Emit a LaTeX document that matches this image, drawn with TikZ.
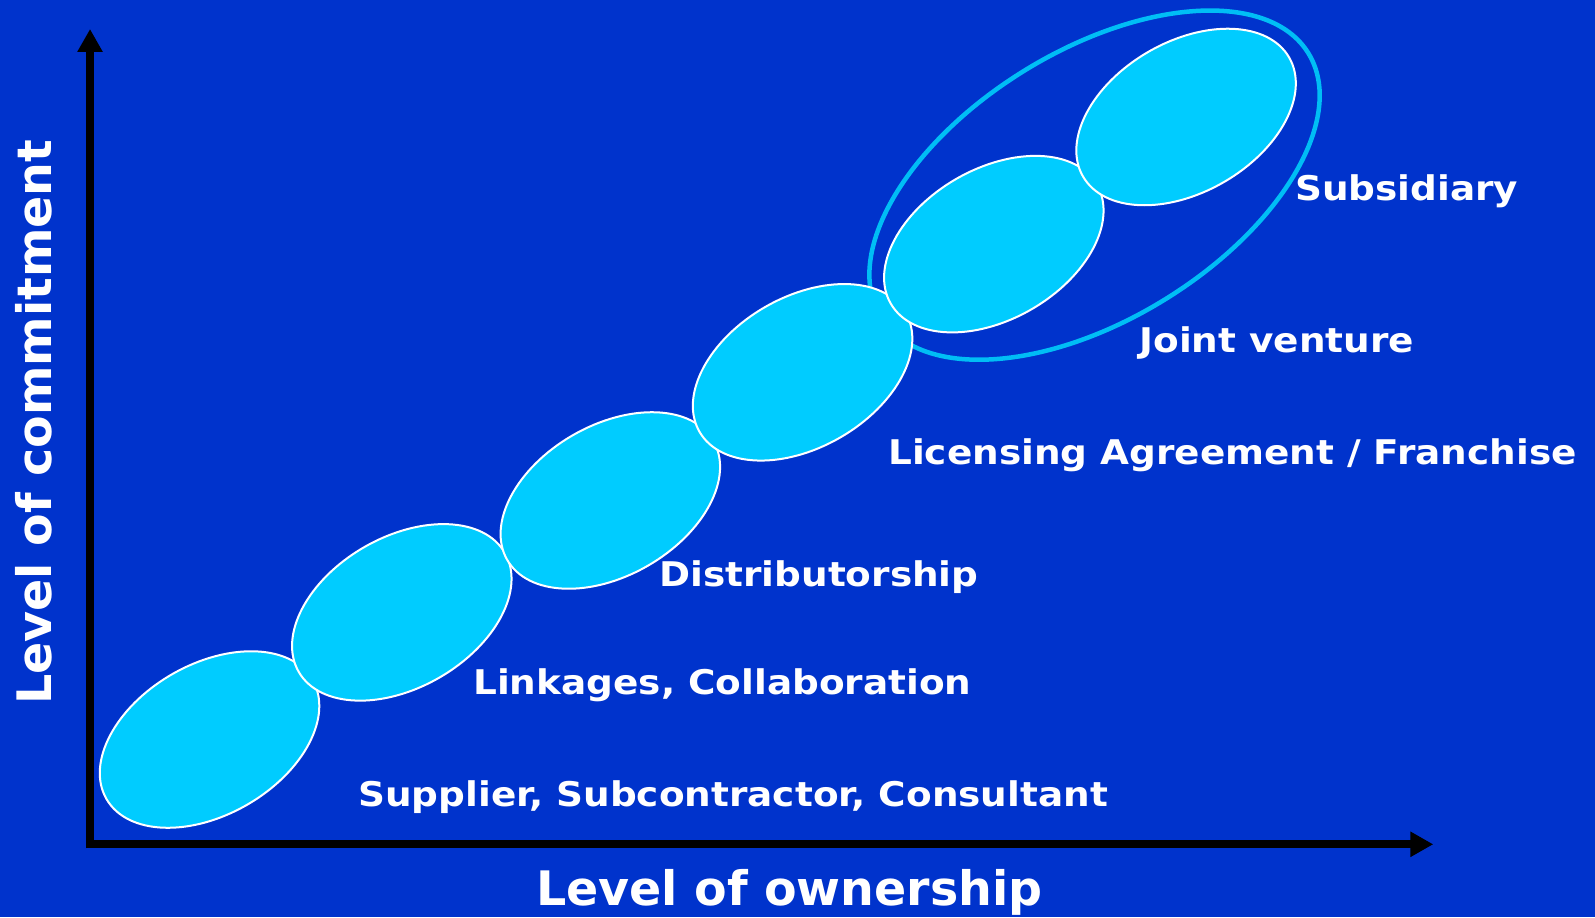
\documentclass[tikz,border=0pt]{standalone}
\usepackage{fontspec}
\setmainfont{DejaVu Sans}
\usetikzlibrary{arrows.meta}
\definecolor{bg}{RGB}{0,51,204}
\definecolor{cy}{RGB}{0,204,255}
\definecolor{ring}{RGB}{0,190,245}
\newcommand{\wide}[1]{\scalebox{1.1}[1]{#1}}
\tikzset{
  blob/.style={fill=cy, draw=white, line width=2pt},
  lbl/.style={text=white, font=\bfseries\fontsize{34}{38}\selectfont, anchor=base west, inner sep=0pt},
  axislbl/.style={text=white, font=\bfseries\fontsize{47.5}{52}\selectfont, inner sep=0pt},
  axis/.style={line width=8pt, -{Triangle[width=24pt,length=23pt]}},
}
\begin{document}
\begin{tikzpicture}[x=1.0172pt,y=-1.0172pt]
\fill[bg] (0,0) rectangle (1568,901.5);
\useasboundingbox (0,0) rectangle (1568,901.5);
% big ring
\draw[ring, line width=4.5pt, rotate around={31.7:(1076,182)}] (1076,182) ellipse [x radius=247, y radius=132];
% small ellipses
\foreach \cx/\cy/\n in {206/727/1, 395/602/2, 600/492/3, 789/366/4, 977/240/5, 1166/115/6}{
  \draw[blob, rotate around={30:(\cx,\cy)}] (\cx,\cy) ellipse [x radius=117, y radius=74];
  \coordinate (e\n) at (\cx,\cy);
}
% axes
\coordinate (o) at (88.5,830);
\coordinate (ytip) at (88.5,28.5);
\coordinate (xtip) at (1409,830);
\draw[axis] ([yshift=-4pt]o) -- (ytip);
\draw[axis] ([xshift=-4pt]o) -- (xtip);
% labels
\node[lbl] (l6) at (1273,197) {\wide{Subsidiary}};
\node[lbl] (l5) at (1120,347) {\wide{Joint venture}};
\node[lbl] (l4) at (873,457) {\wide{Licensing Agreement / Franchise}};
\node[lbl] (l3) at (648,577) {\wide{Distributorship}};
\node[lbl] (l2) at (465,683) {\wide{Linkages, Collaboration}};
\node[lbl] (l1) at (352,793) {\wide{Supplier, Subcontractor, Consultant}};
\node[axislbl] (xl) at (776,877) {Level of ownership};
\node[axislbl, rotate=90] (yl) at (33,415) {Level of commitment};
\end{tikzpicture}
\end{document}
